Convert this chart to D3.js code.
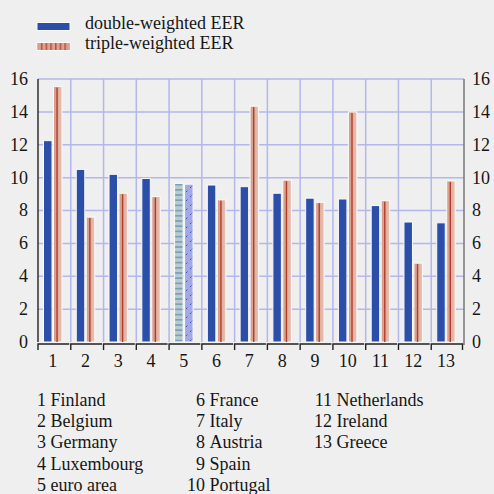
<!DOCTYPE html>
<html><head><meta charset="utf-8">
<script src="https://cdn.jsdelivr.net/npm/d3@7"></script>
<style>
body{margin:0;background:#efefef}
svg{display:block}
text{font-family:"Liberation Serif","Times New Roman",serif;fill:#161616}
</style>
</head><body><svg id="c" width="494" height="494"></svg>
<script>
const categories = ["1","2","3","4","5","6","7","8","9","10","11","12","13"];
const countries = ["Finland","Belgium","Germany","Luxembourg","euro area","France","Italy","Austria","Spain","Portugal","Netherlands","Ireland","Greece"];
const doubleWeighted = [12.25,10.5,10.2,9.95,9.65,9.55,9.45,9.05,8.75,8.7,8.3,7.3,7.25];
const tripleWeighted = [15.55,7.6,9.05,8.85,9.6,8.65,14.35,9.85,8.5,14.0,8.6,4.8,9.8];
const yTicks = [0,2,4,6,8,10,12,14,16];
const seriesNames = ["double-weighted EER","triple-weighted EER"];
const euroIndex = 4;

const svg = d3.select("#c");
const W = 494, H = 494;
const L = 38, R = 464, T = 79, B = 342;
const x = d3.scaleBand().domain(categories).range([L, R]).padding(0);
const y = d3.scaleLinear().domain([0, 16]).range([B, T]);
const inner = d3.scaleBand().domain(["d","t"]).range([5.5, 24]).paddingInner(0.15);
const grid = "#b3b7ea";

const defs = svg.append("defs");
const g1 = defs.append("linearGradient").attr("id","redg").attr("x1","0").attr("x2","1").attr("y1","0").attr("y2","0");
g1.append("stop").attr("offset","0").attr("stop-color","#d49886");
g1.append("stop").attr("offset","1").attr("stop-color","#eac3b5");
const p1 = defs.append("pattern").attr("id","hstripe").attr("patternUnits","userSpaceOnUse").attr("width",10).attr("height",5.2);
p1.append("rect").attr("width",10).attr("height",5.2).attr("fill","#b9cad0");
p1.append("rect").attr("y",2).attr("width",10).attr("height",1.2).attr("fill","#5b93a3");
const p2 = defs.append("pattern").attr("id","diag").attr("patternUnits","userSpaceOnUse").attr("width",9).attr("height",9);
p2.append("rect").attr("width",9).attr("height",9).attr("fill","#a3a9e2");
p2.append("path").attr("d","M1,8 L8,1").attr("stroke","#3d4fc8").attr("stroke-width",1).attr("stroke-dasharray","2,1.5");
const p3 = defs.append("pattern").attr("id","vstripe").attr("patternUnits","userSpaceOnUse").attr("width",4.7).attr("height",10).attr("x",39);
p3.append("rect").attr("width",4.7).attr("height",10).attr("fill","#dba291");
p3.append("rect").attr("x",2).attr("width",1.3).attr("height",10).attr("fill","#b6432f");

// grid
svg.append("g").selectAll("line").data(yTicks.filter(d => d > 0)).join("line")
  .attr("x1", L).attr("x2", R).attr("y1", d => y(d)).attr("y2", d => y(d))
  .attr("stroke", grid).attr("stroke-width", 1.5);
svg.append("g").selectAll("line").data(categories.slice(1)).join("line")
  .attr("x1", d => x(d)).attr("x2", d => x(d)).attr("y1", T).attr("y2", B)
  .attr("stroke", grid).attr("stroke-width", 1.5);

// bars
const bw = inner.bandwidth();
categories.forEach((c, i) => {
  const x0 = x(c);
  const dx = x0 + inner("d"), tx = x0 + inner("t");
  const isEuro = i === euroIndex;
  svg.append("rect").attr("x", dx).attr("y", y(doubleWeighted[i])).attr("width", bw)
    .attr("height", B - y(doubleWeighted[i]))
    .attr("fill", isEuro ? "url(#hstripe)" : "#2b4fa9").attr("stroke", "#fafafa").attr("stroke-width", 1);
  svg.append("rect").attr("x", tx).attr("y", y(tripleWeighted[i])).attr("width", bw)
    .attr("height", B - y(tripleWeighted[i]))
    .attr("fill", isEuro ? "url(#diag)" : "url(#redg)").attr("stroke", "#fafafa").attr("stroke-width", 1);
  if (!isEuro) {
    svg.append("line").attr("x1", tx + bw*0.42).attr("x2", tx + bw*0.42)
      .attr("y1", y(tripleWeighted[i]) + 1).attr("y2", B)
      .attr("stroke", "#b23c2a").attr("stroke-width", 1.4);
  }
});

// axes lines
svg.append("line").attr("x1", L).attr("x2", L).attr("y1", T).attr("y2", B).attr("stroke", "#111").attr("stroke-width", 1.3);
svg.append("line").attr("x1", R).attr("x2", R).attr("y1", T).attr("y2", B + 3).attr("stroke", "#777").attr("stroke-width", 1.5);

// x brackets
categories.forEach((c, i) => {
  const x0 = x(c);
  const path = d3.path();
  path.moveTo(x0, 350); path.lineTo(x0, 344); path.lineTo(x0 + x.bandwidth() - 1.5, 344);
  if (i === categories.length - 1) path.lineTo(x0 + x.bandwidth() - 1.5, 350);
  svg.append("path").attr("d", path.toString()).attr("fill", "none").attr("stroke", "#222").attr("stroke-width", 1.4);
});

// x labels
svg.append("g").selectAll("text").data(categories).join("text")
  .attr("x", d => x(d) + (inner("d") + inner("t") + bw) / 2).attr("y", 367)
  .attr("text-anchor", "middle").attr("font-size", 18).text(d => d);

// y labels
svg.append("g").selectAll("text").data(yTicks).join("text")
  .attr("x", 28).attr("y", d => y(d)).attr("dy", "0.33em").attr("text-anchor", "end")
  .attr("font-size", 18).text(d => d);
svg.append("g").selectAll("text").data(yTicks).join("text")
  .attr("x", 472).attr("y", d => y(d)).attr("dy", "0.33em").attr("text-anchor", "start")
  .attr("font-size", 18).text(d => d);

// legend
svg.append("rect").attr("x", 37).attr("y", 22.5).attr("width", 33).attr("height", 8)
  .attr("fill", "#2b4fa9").attr("stroke", "#fafafa").attr("stroke-width", 1);
svg.append("rect").attr("x", 37).attr("y", 42.5).attr("width", 33).attr("height", 8)
  .attr("fill", "url(#vstripe)").attr("stroke", "#fafafa").attr("stroke-width", 1);
svg.append("text").attr("x", 85).attr("y", 29).attr("font-size", 18).text(seriesNames[0]);
svg.append("text").attr("x", 85).attr("y", 49).attr("font-size", 18).text(seriesNames[1]);

// country list
const colX = [46, 205, 332];
countries.forEach((name, i) => {
  const col = Math.floor(i / 5), row = i % 5;
  const yy = 406 + row * 21.2;
  svg.append("text").attr("x", colX[col]).attr("y", yy).attr("text-anchor", "end").attr("font-size", 18).text(categories[i]);
  svg.append("text").attr("x", colX[col] + 4.5).attr("y", yy).attr("font-size", 18).text(name);
});
</script>
</body></html>
